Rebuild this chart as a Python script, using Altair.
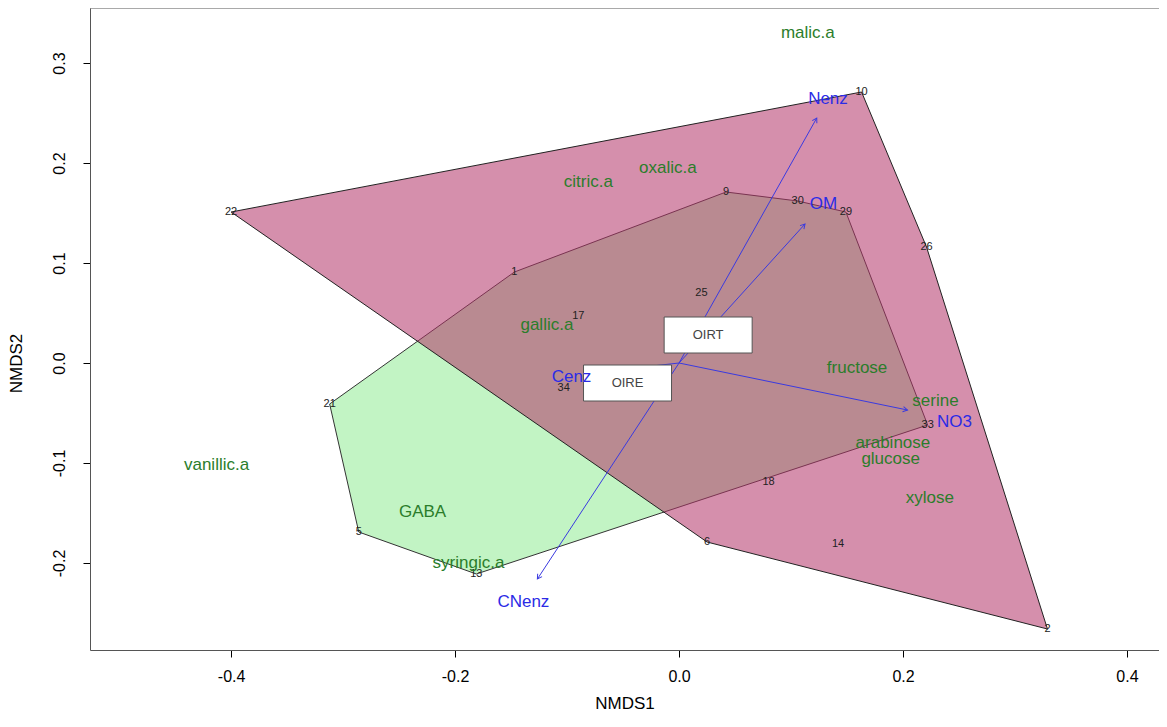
import math
import altair as alt
import pandas as pd

# ---------------- data ----------------
site_ids = ["1", "2", "5", "6", "9", "10", "13", "14", "17", "18",
            "21", "22", "25", "26", "29", "30", "33", "34"]
site_x = [-0.147, 0.329, -0.286, 0.025, 0.042, 0.163, -0.181, 0.142, -0.090, 0.080,
          -0.312, -0.400, 0.020, 0.221, 0.149, 0.106, 0.222, -0.103]
site_y = [0.091, -0.266, -0.169, -0.179, 0.171, 0.271, -0.211, -0.181, 0.047, -0.119,
          -0.041, 0.151, 0.070, 0.116, 0.151, 0.162, -0.062, -0.025]
site_group = ["OIRE", "OIRT", "OIRE", "OIRT", "OIRE", "OIRT", "OIRE", "OIRT", "OIRT", "OIRT",
              "OIRE", "OIRT", "OIRT", "OIRT", "OIRE", "OIRE", "OIRE", "OIRE"]

species_names = ["malic.a", "citric.a", "oxalic.a", "gallic.a", "fructose", "serine",
                 "arabinose", "glucose", "xylose", "vanillic.a", "GABA", "syringic.a"]
species_x = [0.115, -0.081, -0.010, -0.118, 0.159, 0.229,
             0.191, 0.189, 0.224, -0.413, -0.229, -0.188]
species_y = [0.330, 0.181, 0.195, 0.038, -0.005, -0.038,
             -0.080, -0.096, -0.135, -0.102, -0.149, -0.200]

vector_names = ["Nenz", "OM", "NO3", "Cenz", "CNenz"]
vector_x = [0.123, 0.1125, 0.204, -0.048, -0.1265]
vector_y = [0.245, 0.139, -0.047, -0.006, -0.216]
vector_label_x = [0.133, 0.129, 0.246, -0.096, -0.139]
vector_label_y = [0.264, 0.159, -0.059, -0.014, -0.239]

group_names = ["OIRT", "OIRE"]
group_x = [0.026, -0.046]
group_y = [0.028, -0.020]

x_ticks = [-0.4, -0.2, 0.0, 0.2, 0.4]
y_ticks = [-0.2, -0.1, 0.0, 0.1, 0.2, 0.3]

# ---------------- layout ----------------
W, H = 1069, 642
XDOM = [-0.526, 0.4286]
YDOM = [-0.287, 0.355]
FONT = "Liberation Sans"
PX_X = W / (XDOM[1] - XDOM[0])
PX_Y = H / (YDOM[1] - YDOM[0])
XT, YT = "NMDS1", "NMDS2"

sites = pd.DataFrame({"id": site_ids, "x": site_x, "y": site_y, "group": site_group})


def convex_hull(df):
    pts = sorted(zip(df["x"], df["y"]))

    def cross(o, a, b):
        return (a[0] - o[0]) * (b[1] - o[1]) - (a[1] - o[1]) * (b[0] - o[0])

    lower, upper = [], []
    for p in pts:
        while len(lower) >= 2 and cross(lower[-2], lower[-1], p) <= 0:
            lower.pop()
        lower.append(p)
    for p in reversed(pts):
        while len(upper) >= 2 and cross(upper[-2], upper[-1], p) <= 0:
            upper.pop()
        upper.append(p)
    return lower[:-1] + upper[:-1]


def hull_df(group):
    h = convex_hull(sites[sites["group"] == group])
    return pd.DataFrame({"x": [p[0] for p in h], "y": [p[1] for p in h],
                         "order": list(range(len(h)))})


xs = alt.Scale(domain=XDOM, nice=False, zero=False)
ys = alt.Scale(domain=YDOM, nice=False, zero=False)

neg_fmt = "datum.value < 0 ? '-' + format(-datum.value, '.1f') : format(datum.value, '.1f')"

x_axis = alt.Axis(values=x_ticks, labelExpr=neg_fmt, grid=False,
                  tickSize=7, tickColor="#000", domainColor="#555", labelFontSize=16,
                  labelFont=FONT, labelColor="#000", labelPadding=11,
                  titleFont=FONT, titleFontSize=17, titleFontWeight="normal",
                  titleColor="#000", titleBaseline="middle", titleY=53)
y_axis = alt.Axis(values=y_ticks, labelExpr=neg_fmt, grid=False,
                  tickSize=7, tickColor="#000", domainColor="#555", labelFontSize=16,
                  labelFont=FONT, labelColor="#000", labelAngle=-90, labelAlign="center",
                  labelBaseline="bottom", labelPadding=16,
                  titleFont=FONT, titleFontSize=17, titleFontWeight="normal",
                  titleColor="#000", titleAngle=-90, titleBaseline="middle",
                  titleAlign="center", titleX=-74, titleY=355)


def X(field="x"):
    return alt.X(field + ":Q", scale=xs, title=XT)


def Y(field="y"):
    return alt.Y(field + ":Q", scale=ys, title=YT)


# hulls: green (OIRE) opaque, pink (OIRT) translucent on top
green = alt.Chart(hull_df("OIRE")).mark_line(
    interpolate="linear-closed", fill="#c2f4c4", fillOpacity=1,
    stroke="#333333", strokeWidth=1
).encode(
    x=alt.X("x:Q", scale=xs, axis=x_axis, title=XT),
    y=alt.Y("y:Q", scale=ys, axis=y_axis, title=YT),
    order="order:Q",
)

pink = alt.Chart(hull_df("OIRT")).mark_line(
    interpolate="linear-closed", fill="#b33368", fillOpacity=0.55,
    stroke="#222222", strokeWidth=1
).encode(x=X(), y=Y(), order="order:Q")

# top border of the plot box
top = alt.Chart(pd.DataFrame({"a": [0]})).mark_rule(color="#555", strokeWidth=1).encode(
    x=alt.value(0), x2=alt.value(W), y=alt.value(0))

site_text = alt.Chart(sites).mark_text(font=FONT, fontSize=11, color="#222").encode(
    x=X(), y=Y(), text="id:N")

species = pd.DataFrame({"name": species_names, "x": species_x, "y": species_y})
species_text = alt.Chart(species).mark_text(font=FONT, fontSize=17, color="#2b7d2b").encode(
    x=X(), y=Y(), text="name:N")

vec = pd.DataFrame({"name": vector_names, "x0": [0.0] * 5, "y0": [0.0] * 5,
                    "x": vector_x, "y": vector_y,
                    "lx": vector_label_x, "ly": vector_label_y})
vec["ang"] = [(math.degrees(math.atan2(dx * PX_X, dy * PX_Y)) + 360) % 360
              for dx, dy in zip(vec["x"], vec["y"])]

BLUE = "#2b2be6"
vec_lines = alt.Chart(vec).mark_rule(color="#3a3ae0", strokeWidth=1).encode(
    x=X("x0"), y=Y("y0"),
    x2=alt.X2("x:Q", title=XT), y2=alt.Y2("y:Q", title=YT))
vec_heads = alt.Chart(vec).mark_point(
    shape="M-0.5,0.866L0,0L0.5,0.866", size=110, filled=False,
    color="#3a3ae0", strokeWidth=1, opacity=1
).encode(x=X(), y=Y(), angle=alt.Angle("ang:Q", scale=None))
vec_text = alt.Chart(vec).mark_text(font=FONT, fontSize=17, color=BLUE).encode(
    x=X("lx"), y=Y("ly"), text="name:N")

groups = pd.DataFrame({"name": group_names, "x": group_x, "y": group_y})
group_box = alt.Chart(groups).mark_point(
    shape="M-1.2222,-0.5H1.2222V0.5H-1.2222Z", size=5184, filled=True,
    fill="white", stroke="#555", strokeWidth=1, opacity=1
).encode(x=X(), y=Y())
group_text = alt.Chart(groups).mark_text(font=FONT, fontSize=13, color="#444").encode(
    x=X(), y=Y(), text="name:N")

chart = alt.layer(
    green, pink, top, vec_lines, vec_heads, site_text, species_text,
    group_box, group_text, vec_text
).properties(
    width=W, height=H,
    autosize=alt.AutoSizeParams(type="none"),
    padding={"left": 82, "top": 0, "right": 0, "bottom": 63},
    background="white",
).configure_view(strokeWidth=0)

chart.save("out.html", embed_options={"renderer": "svg", "actions": False})
